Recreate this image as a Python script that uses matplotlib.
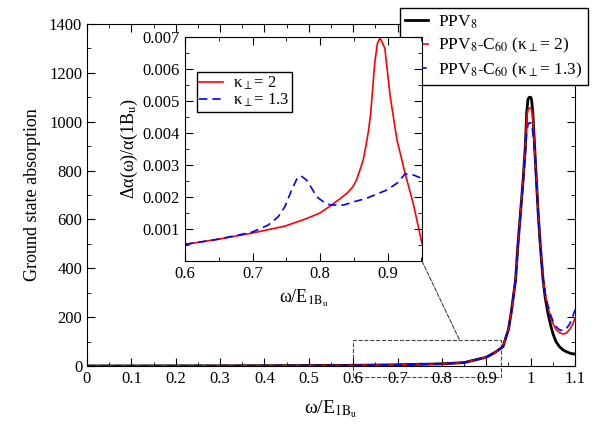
import matplotlib
matplotlib.use('Agg')
import matplotlib.pyplot as plt
from matplotlib.patches import Rectangle, ConnectionPatch
from matplotlib.ticker import MultipleLocator

plt.rcParams['font.family'] = ['Liberation Serif', 'DejaVu Serif']
plt.rcParams['mathtext.fontset'] = 'stix'

# main panel: ground state absorption vs omega/E_1Bu
w_main = [0.0, 0.1, 0.2, 0.3, 0.4, 0.5, 0.6, 0.7, 0.8, 0.85, 0.9, 0.92, 0.9375, 0.95,
          0.956, 0.966, 0.971, 0.977, 0.983, 0.988, 0.991, 0.994, 0.997, 1.0, 1.002,
          1.005, 1.009, 1.013, 1.017, 1.022, 1.028, 1.033, 1.039, 1.045, 1.05, 1.057,
          1.065, 1.073, 1.08, 1.088, 1.095, 1.1]
abs_ppv8 = [0.5, 0.6, 0.8, 1.0, 1.3, 2.0, 3.0, 5.0, 9.0, 14, 36, 56, 79, 150,
            216, 352, 488, 625, 761, 898, 1035, 1092, 1100, 1100, 1092,
            1035, 898, 761, 625, 488, 352, 278, 216, 168, 134, 100,
            79, 66, 59, 53, 50, 49]
abs_k2 = [0.5, 0.6, 0.8, 1.0, 1.3, 2.0, 3.0, 5.0, 9.0, 14, 36, 56, 79, 150,
          216, 352, 488, 625, 761, 890, 1015, 1050, 1056, 1056, 1050,
          1015, 892, 761, 625, 490, 355, 290, 240, 200, 175, 150,
          137, 131, 134, 150, 172, 196]
abs_k13 = [0.5, 0.6, 0.8, 1.0, 1.3, 2.0, 3.0, 5.0, 9.0, 14, 36, 56, 79, 150,
           216, 352, 488, 620, 750, 870, 955, 988, 996, 996, 988,
           955, 868, 750, 620, 490, 358, 295, 248, 210, 185, 162,
           148, 145, 152, 172, 204, 230]

# inset: relative change of absorption
w_k2 = [0.6, 0.649, 0.699, 0.748, 0.778, 0.8, 0.815, 0.83, 0.84, 0.848, 0.854, 0.86,
        0.864, 0.868, 0.872, 0.875, 0.877, 0.881, 0.885, 0.889, 0.896, 0.904, 0.914,
        0.926, 0.938, 0.951]
dalpha_k2 = [0.00052, 0.00068, 0.00087, 0.00109, 0.00131, 0.0015, 0.00172, 0.00195,
             0.00212, 0.0023, 0.00253, 0.0029, 0.00316, 0.0036, 0.0041, 0.0046,
             0.00513, 0.00618, 0.0068, 0.00697, 0.00665, 0.00513, 0.00378,
             0.00274, 0.0018, 0.00055]
w_k13 = [0.6, 0.649, 0.699, 0.723, 0.738, 0.748, 0.758, 0.766, 0.772, 0.78, 0.787,
         0.795, 0.805, 0.815, 0.835, 0.85, 0.869, 0.899, 0.914, 0.926, 0.938, 0.951]
dalpha_k13 = [0.00052, 0.00068, 0.0009, 0.00112, 0.00138, 0.0017, 0.00222, 0.00258,
              0.00266, 0.00253, 0.0023, 0.00201, 0.00185, 0.00175, 0.00175, 0.00185,
              0.00196, 0.00222, 0.00243, 0.00272, 0.00269, 0.00258]

xlabel = r'ω/E$_{\mathrm{1B_u}}$'

fig = plt.figure(figsize=(5.95, 4.3), dpi=100)
ax = fig.add_axes([0.1462, 0.1488, 0.8202, 0.7954])

ax.plot(w_main, abs_ppv8, color='black', lw=2.0, label=r'PPV$_8$')
ax.plot(w_main, abs_k2, color='red', lw=1.2, label=r'PPV$_8$-C$_{60}$ (κ$_\perp$= 2)')
ax.plot(w_main, abs_k13, color='blue', lw=1.2, ls=(0, (5, 3)),
        label=r'PPV$_8$-C$_{60}$ (κ$_\perp$= 1.3)')

ax.set_xlim(0, 1.1)
ax.set_ylim(0, 1400)
ax.set_xticks([0, 0.1, 0.2, 0.3, 0.4, 0.5, 0.6, 0.7, 0.8, 0.9, 1.0, 1.1],
              ['0', '0.1', '0.2', '0.3', '0.4', '0.5', '0.6', '0.7', '0.8', '0.9', '1', '1.1'])
ax.xaxis.set_minor_locator(MultipleLocator(0.05))
ax.yaxis.set_major_locator(MultipleLocator(200))
ax.yaxis.set_minor_locator(MultipleLocator(100))
ax.tick_params(which='both', direction='in', top=True, right=True, labelsize=12)
ax.tick_params(which='major', length=6)
ax.tick_params(which='minor', length=3)
ax.set_xlabel(xlabel, fontsize=14, labelpad=8)
ax.set_ylabel('Ground state absorption', fontsize=13, labelpad=6)

ax.legend(loc='upper right', bbox_to_anchor=(0.988, 0.981), bbox_transform=fig.transFigure,
          fontsize=12.5, frameon=True, fancybox=False, edgecolor='black', framealpha=1,
          borderaxespad=0, handlelength=1.3, handletextpad=0.6, labelspacing=0.3,
          borderpad=0.3)

# zoom box in main panel
rect = Rectangle((0.6, -44), 0.333, 149, fill=False, ls='--', lw=0.8, color='#444444',
                 clip_on=False, zorder=1)
ax.add_patch(rect)

ins = fig.add_axes([0.3109, 0.393, 0.3983, 0.521])
ins.plot(w_k2, dalpha_k2, color='red', lw=1.2, label=r'κ$_\perp$= 2')
ins.plot(w_k13, dalpha_k13, color='blue', lw=1.2, ls=(0, (5, 3)), label=r'κ$_\perp$= 1.3')
ins.set_xlim(0.6, 0.951)
ins.set_ylim(0, 0.007)
ins.xaxis.set_major_locator(MultipleLocator(0.1))
ins.xaxis.set_minor_locator(MultipleLocator(0.05))
ins.set_yticks([0.001, 0.002, 0.003, 0.004, 0.005, 0.006, 0.007])
ins.yaxis.set_minor_locator(MultipleLocator(0.0005))
ins.tick_params(which='both', direction='in', top=True, right=True, labelsize=12)
ins.tick_params(which='major', length=6)
ins.tick_params(which='minor', length=3)
ins.set_xlabel(xlabel, fontsize=13)
ins.set_ylabel(r'Δα(ω)/α(1B$_\mathrm{u}$)', fontsize=13, labelpad=2)
ins.legend(loc='upper left', bbox_to_anchor=(0.05, 0.844), fontsize=12, frameon=True,
           fancybox=False, edgecolor='black', framealpha=1, borderaxespad=0,
           handlelength=1.4, handletextpad=0.6, labelspacing=0.0, borderpad=0.15)

con = ConnectionPatch(xyA=(0.951, 0), coordsA=ins.transData, xyB=(0.84, 105),
                      coordsB=ax.transData, ls='--', lw=0.8, color='#444444')
fig.add_artist(con)

fig.savefig('out.png', dpi=100)
